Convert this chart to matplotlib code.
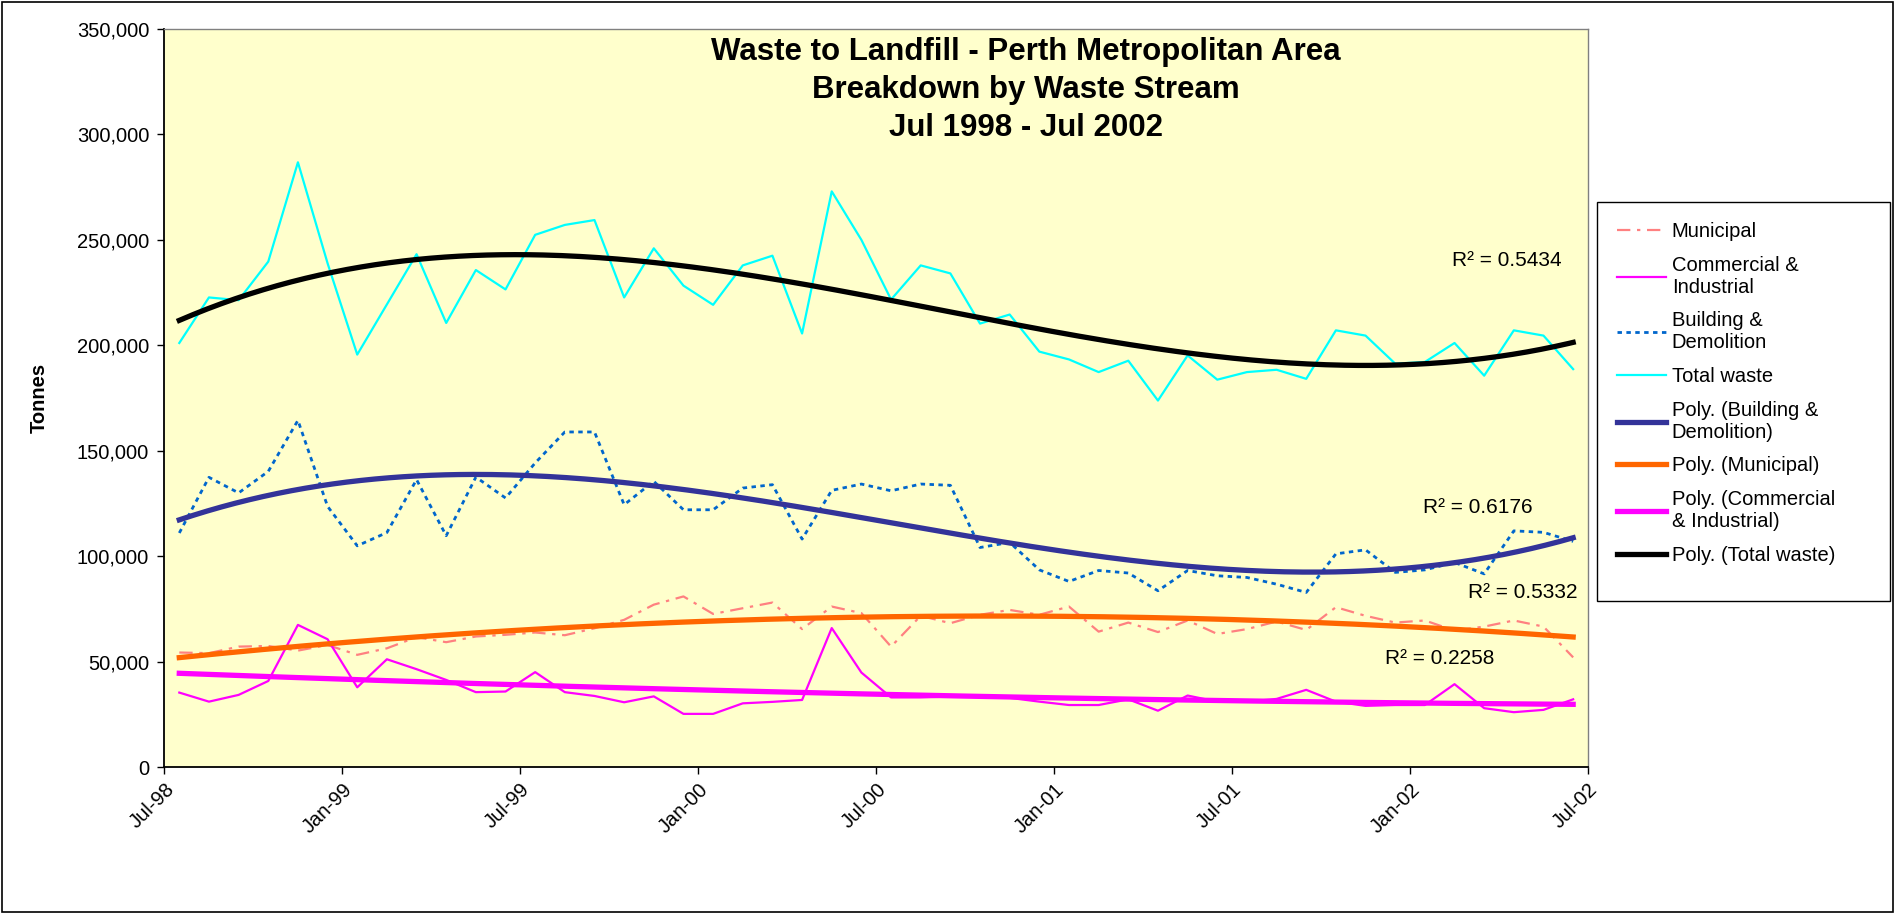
import numpy as np
import matplotlib as mpl
import matplotlib.pyplot as plt
from matplotlib.ticker import FuncFormatter
from matplotlib.patches import Rectangle

mpl.use('Agg')
plt.rcParams['font.family'] = ['Liberation Sans', 'DejaVu Sans']

# monthly tonnages, Jul-98 .. Jun-02
municipal = [54300, 54000, 57100, 57400, 55200, 57900, 53200, 56300, 61600, 59200,
             61900, 62700, 63800, 62500, 65800, 69800, 77000, 80900, 72600, 75300,
             78000, 65400, 76100, 73000, 57100, 71700, 68200, 72200, 74500, 72200,
             76100, 64200, 68500, 64000, 69500, 63100, 65400, 69000, 65000, 75800,
             71700, 68500, 69500, 64700, 66600, 69500, 66600, 52000]
commercial = [35300, 31000, 34200, 40800, 67400, 60600, 37800, 51100, 46400, 41300,
              35500, 35800, 45000, 35500, 33700, 30700, 33500, 25200, 25200, 30200,
              30900, 31800, 65900, 44800, 33000, 33000, 33400, 33700, 32800, 31000,
              29400, 29400, 32100, 26700, 33900, 31000, 31000, 32300, 36600, 31000,
              29000, 29400, 29400, 39300, 27900, 26000, 27100, 32100]
building = [111000, 137400, 130000, 140200, 164400, 123600, 104900, 111200, 136300, 109700,
            137500, 127600, 144200, 158900, 158900, 124400, 135500, 122000, 122000, 132300,
            133900, 108100, 131200, 134200, 131000, 134200, 133600, 104100, 106500, 93500,
            88000, 93200, 92000, 83600, 93200, 90700, 89900, 86700, 82800, 101100,
            103000, 92300, 93500, 97000, 91600, 112000, 111300, 107000]
total = [201100, 222700, 221400, 239700, 286800, 238900, 195600, 219400, 243200, 210600,
         235700, 226500, 252400, 257100, 259400, 222700, 246000, 228300, 219200, 237900,
         242500, 205600, 273000, 250000, 221700, 237900, 234100, 210300, 214600, 197000,
         193300, 187300, 192700, 173800, 195200, 183700, 187300, 188400, 184100, 207100,
         204600, 191300, 192100, 201100, 185600, 207100, 204600, 188700]

tick_labels = ['Jul-98', 'Jan-99', 'Jul-99', 'Jan-00', 'Jul-00',
               'Jan-01', 'Jul-01', 'Jan-02', 'Jul-02']
r2_total, r2_build, r2_mun, r2_comm = '0.5434', '0.6176', '0.5332', '0.2258'

x = np.arange(len(total))
xs = np.linspace(0, len(total) - 1, 300)

def trend(y, deg):
    c = np.polyfit(x, y, deg)
    return np.polyval(c, xs)

fig = plt.figure(figsize=(18.97, 9.13), dpi=100)
ax = fig.add_axes([0.0867, 0.1599, 0.7504, 0.8083])
ax.set_facecolor('#FFFFCC')

l_mun, = ax.plot(x, municipal, color='#FF8080', lw=1.6, dashes=(6, 3, 1.5, 3), label='Municipal')
l_com, = ax.plot(x, commercial, color='#FF00FF', lw=1.6, label='Commercial &\nIndustrial')
l_bui, = ax.plot(x, building, color='#0066CC', lw=2, dashes=(1.6, 1.6), label='Building &\nDemolition')
l_tot, = ax.plot(x, total, color='#00FFFF', lw=1.6, label='Total waste')

t_bui, = ax.plot(xs, trend(building, 3), color='#333399', lw=3.8, label='Poly. (Building &\nDemolition)')
t_mun, = ax.plot(xs, trend(municipal, 2), color='#FF6600', lw=3.8, label='Poly. (Municipal)')
t_com, = ax.plot(xs, trend(commercial, 2), color='#FF00FF', lw=3.8, label='Poly. (Commercial\n& Industrial)')
t_tot, = ax.plot(xs, trend(total, 3), color='black', lw=3.8, label='Poly. (Total waste)')

ax.set_xlim(-0.5, len(total) - 0.5)
ax.set_ylim(0, 350000)
ax.set_xticks(np.arange(-0.5, len(total), 6))
ax.set_xticklabels(tick_labels, rotation=45, ha='right', rotation_mode='anchor')
ax.set_yticks(np.arange(0, 350001, 50000))
ax.yaxis.set_major_formatter(FuncFormatter(lambda v, p: '{:,.0f}'.format(v)))
ax.tick_params(direction='out', length=5, width=1, labelsize=14.5, pad=4)
ax.tick_params(axis='y', pad=6)
ax.set_ylabel('Tonnes', fontsize=14.5, fontweight='bold', labelpad=20)

for s in ['left', 'bottom']:
    ax.spines[s].set_color('black')
    ax.spines[s].set_linewidth(1.3)
for s in ['top', 'right']:
    ax.spines[s].set_color('#808080')
    ax.spines[s].set_linewidth(1)

ax.text(44.75, 240000, 'R² = ' + r2_total, fontsize=15, ha='center', va='center')
ax.text(43.8, 123000, 'R² = ' + r2_build, fontsize=15, ha='center', va='center')
ax.text(45.3, 83000, 'R² = ' + r2_mun, fontsize=15, ha='center', va='center')
ax.text(42.5, 51700, 'R² = ' + r2_comm, fontsize=15, ha='center', va='center')

fig.text(0.541, 0.959, 'Waste to Landfill - Perth Metropolitan Area\nBreakdown by Waste Stream\nJul 1998 - Jul 2002',
         ha='center', va='top', fontsize=22.5, fontweight='bold', linespacing=1.33)

handles = [l_mun, l_com, l_bui, l_tot, t_bui, t_mun, t_com, t_tot]
leg = fig.legend(handles, [h.get_label() for h in handles], loc='upper left',
                 bbox_to_anchor=(0.842, 0.779), bbox_transform=fig.transFigure,
                 fontsize=14.5, frameon=False,
                 handlelength=2.4, handletextpad=0.3, labelspacing=0.73, borderpad=1.0,
                 borderaxespad=0)

# legend box (wider than its text, as in the original)
fig.patches.append(Rectangle((1597 / 1897, 1 - 601 / 913), 293 / 1897, 399 / 913,
                             transform=fig.transFigure, fill=True, facecolor='white',
                             edgecolor='black', lw=1, zorder=0))

fig.patches.append(Rectangle((0.001, 0.001), 0.997, 0.997, transform=fig.transFigure,
                             fill=False, edgecolor='black', lw=1.2))

fig.savefig('out.png', dpi=100)
